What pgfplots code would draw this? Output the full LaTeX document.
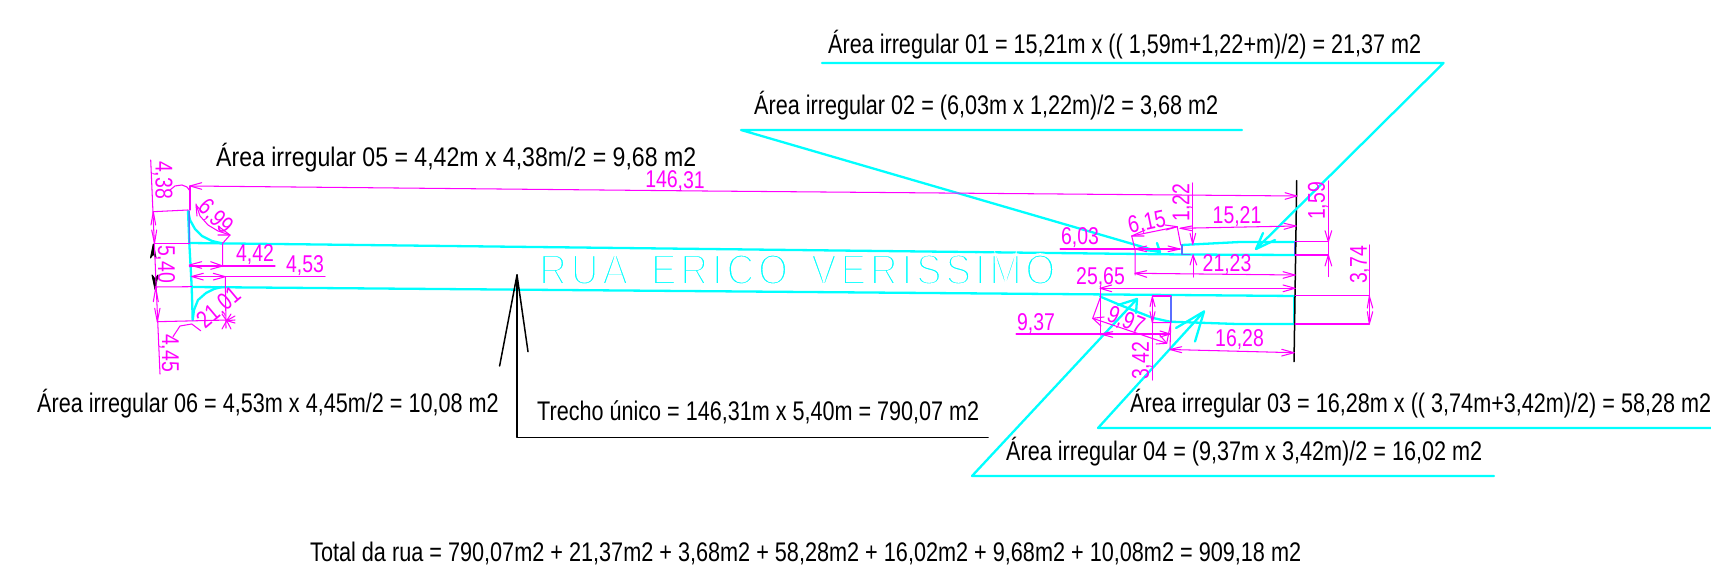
\documentclass[border=0pt]{standalone}
\usepackage{fontspec}
\usepackage{graphicx}
\usepackage{pgfplots}
\pgfplotsset{compat=1.18}
\setmainfont{Liberation Sans}
\newfontfamily\roadfont{Liberation Sans}[LetterSpace=10]
\definecolor{mg}{RGB}{255,0,255}
\definecolor{cy}{RGB}{0,255,255}
\definecolor{bl}{RGB}{90,110,255}
\tikzset{
  M/.style={mg,line width=1.05bp},
  C/.style={cy,line width=2.3bp},
  K/.style={black,line width=1.5bp},
  B/.style={bl,line width=1.5bp},
}
% black note: x, baseline, text width, text
\newcommand{\note}[4]{\node[anchor=base west,inner sep=0pt,text=black] at (axis cs:#1,#2)
  {\fontsize{27}{27}\selectfont\resizebox{#3bp}{\height}{#4}};}
% magenta dimension text
\newcommand{\dm}[4]{\node[inner sep=0pt,text=mg,#3] at (axis cs:#1,#2)
  {\fontsize{19.5}{20}\selectfont\scalebox{1}[1.25]{#4}};}
\newcommand{\seg}[2]{\addplot[#1] coordinates {#2};}
\begin{document}
\begin{tikzpicture}[x=1bp,y=1bp]
\path[use as bounding box] (0,0) rectangle (1711,572);
\begin{axis}[at={(0,0)},anchor=south west,scale only axis,width=1711bp,height=572bp,
  xmin=0,xmax=1711,ymin=0,ymax=572,y dir=reverse,hide axis,clip=false,
  every axis plot/.append style={line join=round,line cap=round}]
% road
\seg{C}{(189,243) (1182,254.5) (1295,255)}
\seg{C}{(192,287) (1295,296)}
\seg{C}{(1182,245) (1240,242) (1295,242)}
\seg{C}{(1100,296.5) (1120,305) (1153,318) (1170,321.7) (1237,324) (1295,324)}
\seg{C}{(188,211) (189.3,243) (191.7,287) (192.7,320)}
\seg{C}{(188.3,211.7) (190,220) (195,229) (202,236) (212,241) (222,243.3)}
\seg{C}{(192.7,320) (194,310) (198,300) (206,293) (214,289) (222,287)}
\seg{C}{(1294,296) (1294,324)}
\seg{B}{(1182,245) (1182,254.5) (1190,254.5)}
\seg{B}{(189,211) (189.5,243)}
\seg{B}{(1295,242) (1295,255)}
\seg{B}{(1171,296) (1171,321.7)}
% black frame line and leader
\seg{K}{(1296.7,180.7) (1294,361.7)}
\seg{K}{(988,437.7) (517,437.7) (517,275)}
\seg{K}{(499.6,366) (517,275) (528,351.7)}
\addplot[black,fill=black,line width=1bp] coordinates {(153.3,244) (150.5,258) (153.3,254) (156,258) (153.3,244)};
\addplot[black,fill=black,line width=1bp] coordinates {(155,289.3) (152,275) (155,279) (158,275) (155,289.3)};
% cyan leaders
\seg{C}{(822,63) (1443.5,63) (1256,249)}
\seg{C}{(1275,240) (1256,249) (1263,233)}
\seg{C}{(1242,130) (741,130) (1160,252)}
\seg{C}{(1157,243) (1160,252) (1146,250)}
\seg{C}{(1711,428) (1098,428) (1204,311.5)}
\seg{C}{(1176,328) (1204,311.5) (1195,341.5)}
\seg{C}{(1494,476) (972,476) (1137,299)}
\seg{C}{(1118,305) (1137,299) (1136,313)}
% left dimensions
\seg{M}{(150.7,160) (160,374)}
\seg{M}{(153.3,211.7) (188,210)}
\seg{M}{(155,243.3) (189.3,243.3)}
\seg{M}{(155,287) (191.7,286.7)}
\seg{M}{(157.3,321.7) (228.3,320)}
\seg{M}{(151,225) (153.3,211.7) (155.7,225)}
\seg{M}{(151.7,230) (154.5,243.3) (156.7,230)}
\seg{M}{(153.3,301.7) (155.7,288) (158.3,301.7)}
\seg{M}{(154.7,308.3) (157.3,321.7) (160,308.3)}
\seg{M}{(170,190) (175,186) (182,185) (187,187) (190,191)}
\seg{M}{(190,186) (190,210)}
\seg{M}{(201.7,182.7) (190,186) (201.7,189.3)}
\seg{M}{(190,186) (704,191) (1296.7,196)}
\seg{M}{(1285,192.7) (1296.7,196) (1285,199.3)}
\seg{M}{(173,336.7) (180,326) (191.7,324) (200.7,330.7)}
\seg{M}{(196,204) (200,216) (208,225) (218,231) (230,235)}
\seg{M}{(230,235) (222.7,243.3) (222.7,266)}
\seg{M}{(197,216) (196,205) (203,213)}
\seg{M}{(218,226) (230,235) (218,235)}
\seg{M}{(189.3,266) (275,266)}
\seg{M}{(201.7,261.7) (189.3,265) (201.7,268.3)}
\seg{M}{(210.7,261.7) (222.7,266) (210.7,269.3)}
\seg{M}{(191.7,276.5) (325,276.5)}
\seg{M}{(203.3,273.3) (191.7,276.5) (203.3,280)}
\seg{M}{(213.3,273.3) (225.3,276.7) (213.3,280)}
\seg{M}{(225.3,276.7) (226,328)}
\seg{M}{(226.7,320.7) (235,316)}
\seg{M}{(226.7,320.7) (235,320)}
\seg{M}{(226.7,320.7) (235,323)}
\seg{M}{(222,329) (226.7,320.7) (231,329)}
\seg{M}{(222,314) (226.7,320.7) (231,314)}
% right dimensions
\seg{M}{(1192.7,183) (1192.7,244.3)}
\seg{M}{(1190,233.3) (1192.7,244.3) (1195.7,233.3)}
\seg{M}{(1193,255) (1193,277)}
\seg{M}{(1190,265) (1193,255) (1196.7,265)}
\seg{M}{(1180,228.3) (1296,226)}
\seg{M}{(1191.7,226) (1180,228.3) (1191.7,230.7)}
\seg{M}{(1284,223.3) (1296,226) (1284,229.3)}
\seg{M}{(1177.3,227.3) (1180.7,245)}
\seg{M}{(1131.7,236) (1177.3,226.7)}
\seg{M}{(1145,230) (1131.7,236) (1144,236)}
\seg{M}{(1165,225) (1177.3,226.7) (1166,230)}
\seg{M}{(1131.7,236) (1135,250) (1135,275)}
\seg{M}{(1060,249) (1180,249)}
\seg{M}{(1146.7,246) (1135,249) (1146.7,251.7)}
\seg{M}{(1168,246) (1180,249) (1168,251.7)}
\seg{M}{(1135,273.3) (1295,275)}
\seg{M}{(1146.7,270.7) (1135,273.3) (1146.7,277.3)}
\seg{M}{(1283,271.7) (1295,275) (1283,278.3)}
\seg{M}{(1100,288.3) (1295,288.3)}
\seg{M}{(1111.7,285) (1100,288.3) (1111.7,291.7)}
\seg{M}{(1283,285) (1295,288.3) (1283,291.7)}
\seg{M}{(1100.5,287) (1100.5,335)}
\seg{M}{(1016,334) (1170,334)}
\seg{M}{(1112.7,331.7) (1100.5,334) (1112.7,337.3)}
\seg{M}{(1160,331) (1170,334) (1160,337)}
\seg{M}{(1100,298.3) (1092.7,318.3) (1166.7,343.3) (1170.7,322.7)}
\seg{M}{(1104,317) (1092.7,318.3) (1101,326)}
\seg{M}{(1156,344) (1166.7,343.3) (1159,334)}
\seg{M}{(1152.3,296) (1152.3,380)}
\seg{M}{(1150,306.7) (1152.3,296.7) (1155,306.7)}
\seg{M}{(1150,311.7) (1152.3,322.7) (1155,311.7)}
\seg{M}{(1152.3,322.7) (1170.7,322.7) (1170,349.3)}
\seg{M}{(1152.3,296) (1171,296)}
\seg{M}{(1170,349.5) (1294,352.7)}
\seg{M}{(1181.7,346.7) (1170,349.5) (1181.7,352.7)}
\seg{M}{(1281.7,349.3) (1294,352.7) (1281.7,356)}
\seg{M}{(1328.3,181) (1328.3,276.7)}
\seg{M}{(1325,230.7) (1328.3,241.7) (1331.7,230.7)}
\seg{M}{(1325,266) (1328.3,255) (1331.7,266)}
\seg{M}{(1295,241.7) (1328.3,241.7)}
\seg{M}{(1295,255) (1328.3,255)}
\seg{M}{(1369.3,245) (1369.3,324)}
\seg{M}{(1367.3,308) (1369.3,296) (1372.7,308)}
\seg{M}{(1367.3,311.7) (1369.3,324) (1372.7,311.7)}
\seg{M}{(1295,295.5) (1369.3,295.5)}
\seg{M}{(1295,324) (1369.3,324)}
% road name
\node[anchor=base west,inner sep=0pt] at (axis cs:539,284.3)
  {\textcolor{cy}{\special{pdf:code q 2 Tr 2.4 w 1 1 1 RG}\resizebox{516bp}{\height}{\fontsize{43}{43}\selectfont\roadfont RUA\hspace{0.6em}ERICO\hspace{0.6em}VERISSIMO}\special{pdf:code Q}}};
% dimension values
\dm{162.5}{180}{rotate=-90}{4,38}
\dm{165}{264}{rotate=-90}{5,40}
\dm{169}{353}{rotate=-90}{4,45}
\dm{215}{217.3}{rotate=-45}{6,99}
\dm{219.3}{308.3}{rotate=40}{21,01}
\dm{255}{261.7}{anchor=base}{4,42}
\dm{305}{273}{anchor=base}{4,53}
\dm{675}{188}{anchor=base,rotate=-0.5}{146,31}
\dm{1182.5}{202.5}{rotate=90}{1,22}
\dm{1318}{201}{rotate=90}{1,59}
\dm{1360}{265}{rotate=90}{3,74}
\dm{1142}{361}{rotate=90}{3,42}
\dm{1237}{224}{anchor=base}{15,21}
\dm{1147}{223.3}{rotate=12}{6,15}
\dm{1080}{245}{anchor=base}{6,03}
\dm{1227}{271.7}{anchor=base}{21,23}
\dm{1100.5}{284.3}{anchor=base}{25,65}
\dm{1036}{330.7}{anchor=base}{9,37}
\dm{1125.7}{320.7}{rotate=-22}{9,97}
\dm{1239.5}{347}{anchor=base}{16,28}
% notes
\note{828}{53.3}{593}{Área irregular 01 = 15,21m x (( 1,59m+1,22+m)/2) = 21,37 m2}
\note{754}{115}{464}{Área irregular 02 = (6,03m x 1,22m)/2 = 3,68 m2}
\note{216}{166.7}{480}{Área irregular 05 = 4,42m x 4,38m/2 = 9,68 m2}
\note{37}{412.7}{461.6}{Área irregular 06 = 4,53m x 4,45m/2 = 10,08 m2}
\note{537}{421}{442}{Trecho único = 146,31m x 5,40m = 790,07 m2}
\note{1130}{412.7}{581}{Área irregular 03 = 16,28m x (( 3,74m+3,42m)/2) = 58,28 m2}
\note{1006}{460}{476}{Área irregular 04 = (9,37m x 3,42m)/2 = 16,02 m2}
\note{310}{561}{991}{Total da rua = 790,07m2 + 21,37m2 + 3,68m2 + 58,28m2 + 16,02m2 + 9,68m2 + 10,08m2 = 909,18 m2}
\end{axis}
\end{tikzpicture}
\end{document}
